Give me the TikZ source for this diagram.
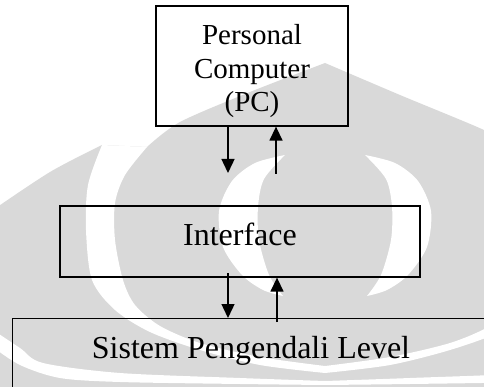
\documentclass[tikz,border=0pt]{standalone}
\usepackage{fontspec}
\setmainfont{Liberation Serif}
\usetikzlibrary{arrows.meta}

\tikzset{
  blok/.style={draw,line width=1.3pt,inner sep=0pt},
  alir/.style={line width=1.4pt,-{Triangle[length=14pt,width=13pt]}},
  wm/.style={fill=black!15},
  teks/.style={font=\fontsize{32}{38}\selectfont,anchor=base}
}

\begin{document}
\begin{tikzpicture}[x=1pt,y=-1pt]
  \useasboundingbox (0,0) rectangle (484,387);
  \clip (0,0) rectangle (484,387);
  % watermark
  \begin{scope}[xshift=325pt]
    \fill[wm] plot[smooth] coordinates {(-335,212) (-275,172) (-223,145)}
      -- plot[smooth] coordinates {(-178,147) (-145,122) (-75,92) (0,63)}
      -- plot[smooth] coordinates {(0,63) (75,95) (159,130) (195,150)}
      -- (200,400) -- (-340,400) -- cycle;
    \foreach \s in {1,-1}{
      \begin{scope}[xscale=\s]
        \fill[white] plot[smooth] coordinates {(-223,145) (-237,185) (-239,230) (-233,280) (-210,310) (-175,332) (-125,350) (-65,365) (0,373)}
          -- plot[smooth] coordinates {(0,366) (-65,357) (-125,343) (-165,326) (-190,305) (-202,280) (-210,240) (-210,203) (-200,175) (-178,147)} -- cycle;
        \fill[white] plot[smooth] coordinates {(-335,328) (-305,348) (-282,363) (-205,373) (-85,378) (0,381)}
          -- plot[smooth] coordinates {(0,385) (-85,384) (-205,382) (-265,378) (-305,365) (-335,345)} -- cycle;
        \fill[white] plot[smooth] coordinates {(-40,155) (-70,163) (-93,181) (-106,211) (-102,247) (-83,275) (-62,290) (-42,296)}
          -- plot[smooth] coordinates {(-42,296) (-56,275) (-66,240) (-67,207) (-61,179) (-40,155)} -- cycle;
      \end{scope}
    }
  \end{scope}

  \node[blok,minimum width=192pt,minimum height=120pt] (pc) at (252,66) {};
  \node[blok,minimum width=360pt,minimum height=71pt] (ifc) at (240,241.5) {};
  \node[blok,minimum width=490pt,minimum height=120pt,anchor=north west] (sys) at (12,318) {};

  \foreach \t [count=\i] in {Personal,Computer,{(PC)}}
    \node[teks,font=\fontsize{29}{34}\selectfont] (pc\i) at (252,{45+33.5*(\i-1)}) {\t};
  \node[teks] (ifctxt) at (240,246) {Interface};
  \node[teks] (systxt) at (251,358) {Sistem Pengendali Level};

  \coordinate (d1) at (228,173);
  \coordinate (u1) at (276,174);
  \coordinate (d2) at (228,273);
  \coordinate (u2) at (277,322);
  \draw[alir] (d1 |- pc.south) -- (d1);
  \draw[alir] (u1) -- (u1 |- pc.south);
  \draw[alir] (d2) -- (d2 |- sys.north);
  \draw[alir] (u2) -- (u2 |- ifc.south);
\end{tikzpicture}
\end{document}
